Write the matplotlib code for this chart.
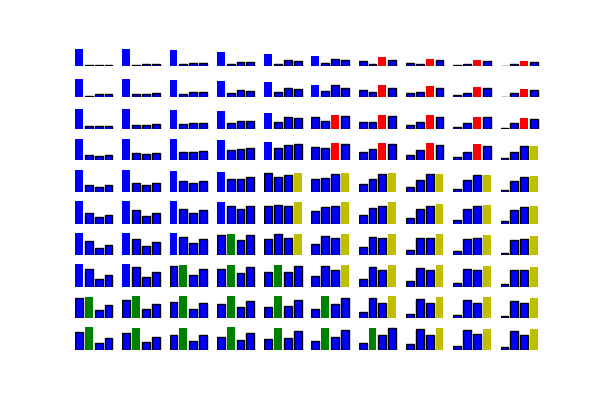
import matplotlib
matplotlib.use("Agg")
import matplotlib.pyplot as plt
import numpy as np

# Bar values per cell: rows top->bottom, columns left->right, 4 bars each
row1 = [[50, 1, 1, 1], [50, 3, 6, 6], [47, 5, 9, 9], [42, 5, 12, 12], [36, 5, 18, 15],
        [28, 8, 20, 17], [14, 5, 25, 17], [8, 5, 21, 17], [3, 5, 18, 14], [0.5, 5, 15, 11]]
row2 = [[56, 5, 9, 9], [56, 9, 9, 12], [53, 9, 15, 15], [50, 12, 21, 18], [45, 15, 27, 24],
        [37, 18, 36, 29], [21, 15, 37, 29], [12, 15, 33, 29], [6, 12, 30, 27], [2, 12, 24, 23]]
row3 = [[60, 10, 10, 10], [60, 13, 13, 16], [57, 16, 19, 19], [54, 19, 25, 25], [49, 22, 36, 33],
        [36, 25, 43, 38], [22, 22, 43, 38], [12, 22, 43, 36], [6, 19, 37, 36], [3, 19, 34, 30]]
row4 = [[65, 15, 12, 15], [63, 21, 18, 21], [63, 24, 24, 27], [60, 30, 33, 36], [54, 36, 45, 48],
        [39, 36, 51, 50], [26, 33, 51, 50], [15, 30, 51, 47], [9, 26, 48, 44], [6, 26, 42, 42.5]]
row5 = [[65, 21, 15, 21], [65, 27, 21, 27], [62, 33, 27, 33], [59, 39, 39, 45], [56, 45, 51, 57],
        [39, 42, 53, 57], [24, 39, 53, 57], [15, 35, 53, 54], [8, 35, 50, 51], [5, 32, 45, 48]]
row6 = [[67, 32, 21, 27], [67, 40, 24, 33], [67, 45, 33, 42], [64, 54, 45, 54], [54, 57, 54, 64],
        [39, 51, 54, 64], [27, 48, 54, 64], [18, 45, 54, 60], [12, 45, 54, 57], [9, 42, 51, 54]]
row7 = [[67, 42, 21, 30], [67, 49, 27, 39], [67, 55, 36, 49], [60, 64, 46, 60], [49, 63, 52, 64],
        [33, 57, 51, 63], [24, 54, 51, 63], [15, 51, 51, 63], [12, 48, 51, 60], [6, 45, 48, 57]]
row8 = [[67, 53, 23, 35], [67, 60, 30, 45], [62, 66, 35, 53], [53, 66, 42, 59], [45, 66, 45, 62],
        [32, 62, 50, 65], [23, 59, 50, 65], [17, 56, 50, 65], [11, 53, 50, 62], [8, 50, 50, 59]]
row9 = [[62, 63, 24, 39], [56, 66, 27, 42], [50, 66, 29, 47], [44, 66, 35, 53], [35, 66, 38, 56],
        [29, 66, 44, 62], [20, 62, 47, 66], [14, 59, 47, 63], [11, 56, 47, 63], [8, 53, 47, 60]]
row10 = [[55, 68, 22, 37], [51, 67, 25, 39], [45, 67, 28, 45], [39, 70, 31, 52], [33, 67, 37, 57],
         [27, 67, 39, 60], [21, 67, 45, 66], [18, 63, 45, 67], [12, 60, 48, 64], [9, 57, 45, 64]]

rows = [row1, row2, row3, row4, row5, row6, row7, row8, row9, row10]
bar_positions = [0, 1, 2, 3]
highlight_colors = ['b', 'g', 'r', 'y']

fig, axes = plt.subplots(10, 10, figsize=(6, 4), dpi=100, sharey=True)
fig.subplots_adjust(left=0.125, right=0.9, bottom=0.125, top=0.9008,
                    wspace=0.2, hspace=0.215)

for r, row in enumerate(rows):
    for c, vals in enumerate(row):
        ax = axes[r, c]
        k = int(np.argmax(vals))
        colors = ['b'] * 4
        colors[k] = highlight_colors[k]
        edges = ['k'] * 4
        lws = [1.0] * 4
        edges[k] = colors[k]
        lws[k] = 0
        ax.bar(bar_positions, vals, width=0.8, align='edge', color=colors,
               edgecolor=edges, linewidth=lws)
        ax.set_xlim(0, 4)
        ax.set_ylim(0, 78)
        ax.axis('off')

fig.savefig("out.png")
